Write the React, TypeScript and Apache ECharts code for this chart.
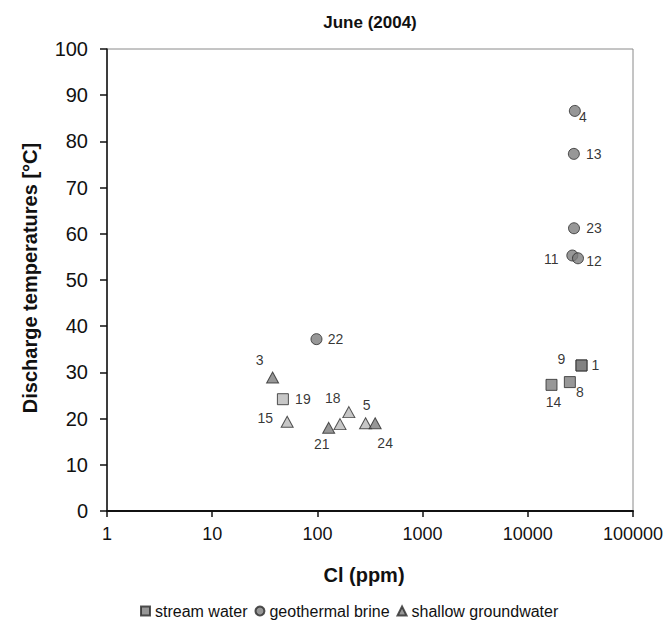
import React, { useEffect, useRef } from "react";
import * as echarts from "echarts";

// ---- data ----
const titleText = "June (2004)";
const xAxisTitle = "Cl (ppm)";
const yAxisTitle = "Discharge temperatures [°C]";
const seriesNames = ["stream water", "geothermal brine", "shallow groundwater"];

const xTicks = [1, 10, 100, 1000, 10000, 100000];
const yMin = 0;
const yMax = 100;
const yStep = 10;

// stream water (squares)
const streamCl = [32400, 32400, 25100, 16800, 47];
const streamT = [31.5, 31.5, 27.9, 27.3, 24.2];
const streamIds = ["1", "9", "8", "14", "19"];
const streamTone = ["dark", "dark", "dark", "dark", "light"];

// geothermal brine (circles)
const brineCl = [28000, 27400, 27500, 26500, 30000, 98];
const brineT = [86.6, 77.3, 61.2, 55.3, 54.7, 37.2];
const brineIds = ["4", "13", "23", "11", "12", "22"];
const brineTone = ["dark", "dark", "dark", "dark", "dark", "dark"];

// shallow groundwater (triangles)
const groundCl = [37.5, 51.6, 128, 164, 199, 287, 354];
const groundT = [28.9, 19.3, 18.0, 18.8, 21.4, 19.0, 19.0];
const groundIds = ["3", "15", "21", "", "18", "5", "24"];
const groundTone = ["dark", "light", "dark", "light", "light", "light", "dark"];

// ---- styling ----
const toneColor: Record<string, string> = { dark: "#7d7d7d", light: "#b9b9b9" };
const labelOffset: Record<string, number[]> = {
  "4": [8, 6], "13": [20, 0], "23": [20, 0], "11": [-21, 3], "12": [16, 3],
  "1": [14, 0], "9": [-20, -6], "8": [10, 10], "14": [2, 17],
  "22": [19, 0], "3": [-13, -17], "19": [20, 0], "15": [-22, -4],
  "21": [-7, 16], "18": [-16, -14], "5": [1, -18], "24": [10, 20],
};

const FONT = "Arial, 'Liberation Sans', sans-serif";

function buildData(xs: number[], ys: number[], ids: string[], tones: string[]) {
  return xs.map((x, i) => ({
    value: [x, ys[i]],
    name: ids[i],
    itemStyle: { color: toneColor[tones[i]] },
    label: {
      show: ids[i] !== "",
      position: "inside",
      offset: labelOffset[ids[i]] || [0, 0],
      formatter: ids[i],
    },
  }));
}

export default function App() {
  const ref = useRef<HTMLDivElement>(null);
  useEffect(() => {
    if (!ref.current) return;
    const chart = echarts.init(ref.current, undefined, { renderer: "svg" });
    const labelStyle = {
      color: "#000",
      fontSize: 14,
      fontFamily: FONT,
    };
    const common = {
      type: "scatter",
      symbolSize: 11,
      itemStyle: { borderColor: "#2a2a2a", borderWidth: 1, color: toneColor.dark },
      label: labelStyle,
      emphasis: { disabled: true },
    };
    chart.setOption({
      animation: false,
      backgroundColor: "#fff",
      grid: {
        left: 107,
        right: 34,
        top: 49,
        bottom: 110,
        show: true,
        borderColor: "#8a8a8a",
        borderWidth: 1,
        containLabel: false,
      },
      xAxis: {
        type: "log",
        logBase: 10,
        min: xTicks[0],
        max: xTicks[xTicks.length - 1],
        axisLine: { show: true, lineStyle: { color: "#111", width: 2 } },
        axisTick: { show: true, inside: false, length: 6, lineStyle: { color: "#111", width: 1.5 } },
        minorTick: { show: false },
        splitLine: { show: false },
        axisLabel: {
          color: "#111",
          fontSize: 18,
          fontFamily: FONT,
          margin: 14,
          formatter: (v: number) => String(Math.round(v)),
        },
      },
      yAxis: {
        type: "value",
        min: yMin,
        max: yMax,
        interval: yStep,
        axisLine: { show: true, lineStyle: { color: "#111", width: 1.5 } },
        axisTick: { show: true, inside: false, length: 7, lineStyle: { color: "#111", width: 1.5 } },
        splitLine: { show: false },
        axisLabel: {
          color: "#111",
          fontSize: 20,
          fontFamily: FONT,
          margin: 19,
        },
      },
      legend: {
        left: 140,
        top: 603,
        itemWidth: 9,
        itemHeight: 9,
        itemGap: 7,
        padding: 0,
        textStyle: { color: "#111", fontSize: 16, fontFamily: FONT },
        data: [
          { name: seriesNames[0], icon: "rect" },
          { name: seriesNames[1], icon: "circle" },
          { name: seriesNames[2], icon: "triangle" },
        ],
      },
      graphic: [
        {
          type: "text",
          x: 370,
          y: 22,
          style: {
            text: titleText,
            align: "center",
            verticalAlign: "middle",
            font: "bold 17px 'Liberation Sans Narrow', 'Arial Narrow', Arial, sans-serif",
            fill: "#111",
          },
        },
        {
          type: "text",
          x: 364,
          y: 575,
          style: {
            text: xAxisTitle,
            align: "center",
            verticalAlign: "middle",
            font: "bold 20px Arial, 'Liberation Sans', sans-serif",
            fill: "#111",
          },
        },
        {
          type: "text",
          x: 30,
          y: 278,
          rotation: Math.PI / 2,
          style: {
            text: yAxisTitle,
            align: "center",
            verticalAlign: "middle",
            font: "bold 20px Arial, 'Liberation Sans', sans-serif",
            fill: "#111",
          },
        },
      ],
      series: [
        {
          ...common,
          name: seriesNames[0],
          symbol: "rect",
          symbolSize: 11,
          data: buildData(streamCl, streamT, streamIds, streamTone),
        },
        {
          ...common,
          name: seriesNames[1],
          symbol: "circle",
          symbolSize: 11,
          data: buildData(brineCl, brineT, brineIds, brineTone),
        },
        {
          ...common,
          name: seriesNames[2],
          symbol: "triangle",
          symbolSize: [12, 11],
          data: buildData(groundCl, groundT, groundIds, groundTone),
        },
      ],
    });
    return () => chart.dispose();
  }, []);
  return <div ref={ref} style={{ width: 667, height: 621, position: "absolute", left: 0, top: 0 }} />;
}
